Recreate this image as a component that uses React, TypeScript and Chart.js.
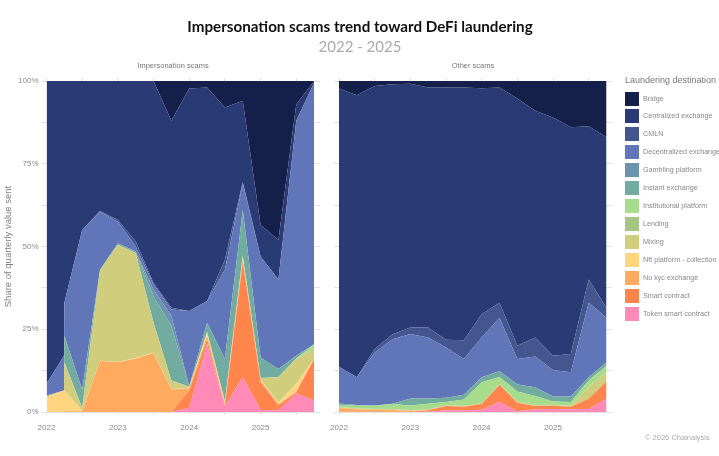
import { useEffect, useRef } from "react"
import { Chart, registerables } from "chart.js"

Chart.register(...registerables)

const quarters = [0, 1, 2, 3, 4, 5, 6, 7, 8, 9, 10, 11, 12, 13, 14, 15]
// impersonation panel has a hard step at the second quarter, so it gets one extra point just before it
const impQuarters = [0, 0.98, 1, 2, 3, 4, 5, 6, 7, 8, 9, 10, 11, 12, 13, 14, 15]
const yearLabels: Record<number, string> = { 0: "2022", 4: "2023", 8: "2024", 12: "2025" }
const yTickLabels: Record<number, string> = { 0: "0%", 25: "25%", 50: "50%", 75: "75%", 100: "100%" }

// bottom of the stack first
const destinations = [
  "Token smart contract",
  "Smart contract",
  "No kyc exchange",
  "Nft platform - collection",
  "Mixing",
  "Lending",
  "Institutional platform",
  "Instant exchange",
  "Gambling platform",
  "Decentralized exchange",
  "CMLN",
  "Centralized exchange",
  "Bridge",
]
const colors = [
  "#ff8ab8",
  "#ff854d",
  "#ffaa5e",
  "#ffd580",
  "#d0cd7d",
  "#a5c585",
  "#a6dc8c",
  "#72aca0",
  "#6b93ad",
  "#6176b8",
  "#44568f",
  "#2a3a75",
  "#14204a",
]

// Impersonation scams, share of quarterly value sent
const impToken = [0, 0, 0, 0, 0, 0, 0, 0, 0, 1.3, 20.5, 1.8, 10.5, 0.6, 0.5, 5.6, 3.5]
const impSmart = [0, 0, 0, 0, 0, 0, 0, 0, 0, 5.2, 1.5, 0.2, 35, 8.4, 1.5, 0.4, 12.5]
const impNoKyc = [0, 0, 0.2, 0.2, 15.4, 15, 16.2, 17.8, 6.8, 0.7, 1, 0.5, 0.5, 0.5, 0.4, 0.2, 0]
const impNft = [4.6, 6.5, 6.4, 0.1, 0.1, 0.1, 0.1, 0.1, 0.1, 0.1, 0.5, 0.3, 0.3, 0.3, 0.5, 2.3, 0.1]
const impMixing = [0.1, 0, 8.4, 0.9, 27.3, 35.4, 31.7, 9.1, 2.6, 0.2, 0.5, 0.4, 0.7, 0.4, 7.6, 7.5, 2.9]
const impLending = [0, 0, 0, 0, 0, 0, 0, 0, 0, 0.1, 0.1, 0.1, 0.1, 0.1, 0.1, 0.1, 0.5]
const impInstitutional = [0, 0, 0, 0, 0, 0, 0, 0, 0, 0, 0.1, 0, 0.1, 0, 0, 0.1, 1]
const impInstant = [0.3, 0, 8, 5.6, 0.2, 0.5, 0.5, 8, 16.5, 0.2, 2.8, 12.7, 13.8, 6.2, 2.4, 0.8, 0]
const impGambling = [0, 0, 0, 0, 0, 0, 0, 2, 3, 0, 0, 0, 0, 0, 0, 0, 0]
const impDex = [3.5, 10.5, 10, 48.2, 17.5, 6.5, 1.5, 1.5, 2, 22.7, 6.5, 27, 8, 30.5, 27, 71, 79]
const impCmln = [0, 0, 0, 0, 0.2, 0.5, 1.5, 0.5, 0.5, 0, 0, 3, 0.5, 0, 0, 0, 0]
const impCex = [91.5, 83, 67, 45, 39.3, 42, 48.5, 61, 56.5, 67.2, 64.5, 46, 24.5, 9.5, 12, 5, 0.5]
const impBridge = [0, 0, 0, 0, 0, 0, 0, 0, 12, 2.3, 2, 8, 6, 43.5, 48, 7, 0]

// Other scams
const othToken = [0, 0, 0, 0, 0, 0.1, 0.5, 0.5, 0.7, 3, 0.2, 0.8, 0.9, 0.8, 0.9, 4]
const othSmart = [0.1, 0.1, 0.1, 0.1, 0.1, 0.4, 1.3, 1.1, 1.7, 5.2, 2.6, 1, 1, 0.8, 3.1, 5.3]
const othNoKyc = [1.1, 0.7, 0.6, 0.5, 0.2, 0, 0, 0, 0, 0, 0, 0, 0, 0, 0, 0]
const othNft = [0, 0, 0, 0, 0, 0, 0, 0, 0, 0, 0, 0, 0, 0, 0, 0]
const othMixing = [0.2, 0.2, 0.2, 0.2, 0.2, 0.2, 0.2, 0.2, 0.2, 0.2, 0.2, 0.2, 0.2, 0.2, 3.5, 2.7]
const othLending = [0.1, 0.1, 0.1, 0.1, 0.1, 0.1, 0.1, 0.1, 0.1, 0.1, 0.1, 0.1, 0.1, 0.1, 0.1, 0.1]
const othInstitutional = [0.5, 0.8, 0.9, 1.5, 1.4, 1.7, 0.9, 1.9, 6.3, 2.1, 3.1, 2.7, 1, 1.1, 1.9, 1.9]
const othInstant = [0.6, 0.2, 0.1, 0.1, 2.1, 1.6, 1.3, 1.4, 1.5, 1.8, 2.1, 2.7, 1.5, 1.7, 1, 1]
const othGambling = [0, 0, 0, 0, 0, 0, 0, 0, 0, 0, 0, 0, 0, 0, 0, 0]
const othDex = [11.1, 8.4, 16, 19.5, 19.5, 18.4, 15.2, 10.8, 12, 16.1, 7.7, 9.3, 8, 7.3, 22.5, 13.5]
const othCmln = [0, 0, 1, 1.5, 1.9, 3, 2.3, 5.7, 7, 4.5, 4, 5.7, 4.3, 5.5, 7, 3]
const othCex = [84, 85.2, 79.5, 75.5, 73.7, 72.5, 76.2, 76.3, 68.3, 65, 74.7, 68.5, 72, 68.5, 46.3, 51.5]
const othBridge = [2.3, 4.3, 1.5, 1, 0.8, 2, 2, 2, 2.2, 2, 5.3, 9, 11, 14, 13.7, 17]

const impSeries = [impToken, impSmart, impNoKyc, impNft, impMixing, impLending, impInstitutional, impInstant, impGambling, impDex, impCmln, impCex, impBridge]
const othSeries = [othToken, othSmart, othNoKyc, othNft, othMixing, othLending, othInstitutional, othInstant, othGambling, othDex, othCmln, othCex, othBridge]

const textFont = "'Liberation Sans', Arial, sans-serif"
const tickFont = { family: textFont, size: 8 }
const gridColor = "#e2e2e2"
const labelColor = "#8a8a8a"

function makeChart(canvas: HTMLCanvasElement, xs: number[], series: number[][], showY: boolean, yWidth: number, rightPad: number) {
  return new Chart(canvas, {
    type: "line",
    data: {
      datasets: series.map((values, i) => ({
        label: destinations[i],
        data: xs.map((q, j) => ({ x: q, y: values[j] })),
        backgroundColor: colors[i],
        borderWidth: 0,
        pointRadius: 0,
        tension: 0,
        fill: i === 0 ? "origin" : "-1",
      })),
    },
    options: {
      responsive: false,
      animation: false,
      layout: { padding: { right: rightPad } },
      plugins: { legend: { display: false }, tooltip: { enabled: false }, title: { display: false } },
      scales: {
        x: {
          type: "linear",
          min: 0,
          max: 15.33,
          grid: { drawOnChartArea: false, color: gridColor, tickLength: 3 },
          border: { display: false },
          afterFit: (s: any) => {
            s.height = 23
          },
          ticks: {
            stepSize: 2,
            includeBounds: false,
            autoSkip: false,
            maxRotation: 0,
            padding: 8,
            color: labelColor,
            font: tickFont,
            callback: (v: any) => yearLabels[v] ?? "",
          },
        },
        xTop: {
          type: "linear",
          position: "top",
          min: 0,
          max: 15.33,
          grid: { drawOnChartArea: false, color: gridColor, tickLength: 3 },
          border: { display: false },
          afterFit: (s: any) => {
            s.height = 11
          },
          ticks: { stepSize: 2, includeBounds: false, autoSkip: false, display: false },
        },
        y: {
          stacked: true,
          min: 0,
          max: 100,
          grid: { color: gridColor, tickLength: 5 },
          border: { display: false },
          afterFit: (s: any) => {
            s.width = yWidth
          },
          title: {
            display: showY,
            text: "Share of quarterly value sent",
            color: "#808080",
            padding: { top: 3, bottom: 0 },
            font: { family: textFont, size: 9.5 },
          },
          ticks: {
            display: showY,
            stepSize: 12.5,
            autoSkip: false,
            padding: 3,
            color: labelColor,
            font: tickFont,
            callback: (v: any) => yTickLabels[v] ?? "",
          },
        },
      },
    } as any,
  })
}

export default function App() {
  const leftRef = useRef<HTMLCanvasElement>(null)
  const rightRef = useRef<HTMLCanvasElement>(null)

  useEffect(() => {
    if (!leftRef.current || !rightRef.current) return
    const left = makeChart(leftRef.current, impQuarters, impSeries, true, 46.5, 5)
    const right = makeChart(rightRef.current, quarters, othSeries, false, 20, 5.6)
    return () => {
      left.destroy()
      right.destroy()
    }
  }, [])

  const abs = (x: number, y: number, extra: any = {}): any => ({
    position: "absolute",
    left: x,
    top: y,
    whiteSpace: "nowrap",
    lineHeight: 1,
    willChange: "transform",
    ...extra,
  })
  const centered = (cx: number, y: number, extra: any = {}): any => abs(cx, y, { transform: "translateX(-50%)", ...extra })

  return (
    <div style={{ position: "absolute", left: 0, top: 0, width: 719, height: 456, overflow: "hidden", background: "#fff", fontFamily: textFont }}>
      <div style={centered(359.5, 19, { fontFamily: "Lato, sans-serif", fontWeight: 700, fontSize: 15.2, color: "#111" })}>
        Impersonation scams trend toward DeFi laundering
      </div>
      <div style={centered(360, 39, { fontFamily: "Lato, sans-serif", fontSize: 15, color: "#aaa" })}>2022 - 2025</div>
      <div style={centered(173, 62, { fontSize: 7.5, color: "#777" })}>Impersonation scams</div>
      <div style={centered(473, 62, { fontSize: 7.5, color: "#777" })}>Other scams</div>

      <canvas ref={leftRef} width={325} height={365} style={{ position: "absolute", left: 0, top: 70 }} />
      <canvas ref={rightRef} width={299} height={365} style={{ position: "absolute", left: 319, top: 70 }} />

      <div style={abs(624.5, 75.5, { fontSize: 9, color: "#777" })}>Laundering destination</div>
      {destinations
        .slice()
        .reverse()
        .map((name, i) => (
          <div key={name}>
            <div style={abs(625, 91.5 + i * 17.95, { width: 13.5, height: 13.5, background: colors[colors.length - 1 - i] })} />
            <div style={abs(643, 94.5 + i * 17.95, { fontSize: 7.2, color: "#888" })}>{name}</div>
          </div>
        ))}
      <div style={abs(645, 434, { fontSize: 7.5, color: "#aaa" })}>© 2026 Chainalysis</div>
    </div>
  )
}
